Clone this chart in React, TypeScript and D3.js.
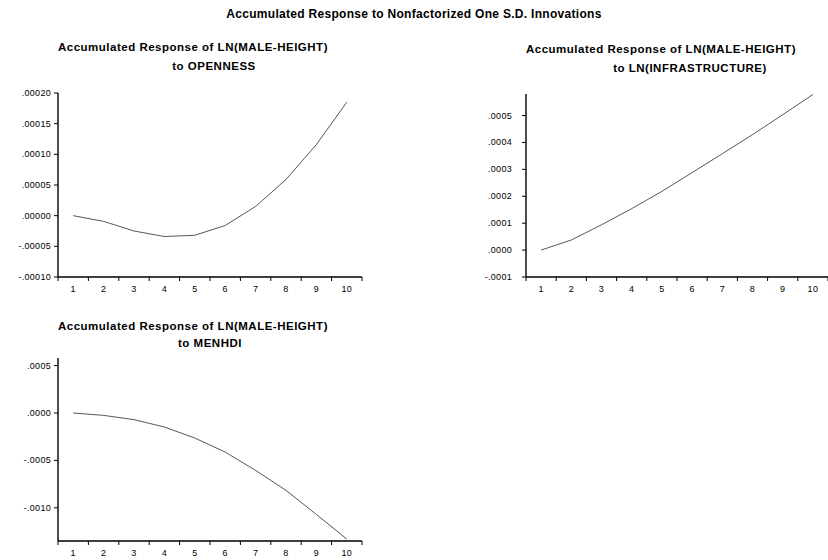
import React from "react";
import * as d3 from "d3";

const W = 828;
const H = 560;

const periods = ["1", "2", "3", "4", "5", "6", "7", "8", "9", "10"];

const mainTitle = "Accumulated Response to Nonfactorized One S.D. Innovations";

const opennessValues = [0, -0.0000093, -0.000025, -0.000034, -0.000032, -0.000016, 0.000015, 0.000059, 0.000116, 0.000185];
const infrastructureValues = [0, 0.0000375, 0.000094, 0.000154, 0.000218, 0.000288, 0.000358, 0.000429, 0.000503, 0.000578];
const menhdiValues = [0, -0.000025, -0.00007, -0.000148, -0.000264, -0.000412, -0.000605, -0.000816, -0.00107, -0.00133];

const opennessTicks = [-0.0001, -0.00005, 0, 0.00005, 0.0001, 0.00015, 0.0002];
const infrastructureTicks = [-0.0001, 0, 0.0001, 0.0002, 0.0003, 0.0004, 0.0005];
const menhdiTicks = [-0.001, -0.0005, 0, 0.0005];

const opennessTitle = ["Accumulated Response of LN(MALE-HEIGHT)", "to OPENNESS"];
const infrastructureTitle = ["Accumulated Response of LN(MALE-HEIGHT)", "to LN(INFRASTRUCTURE)"];
const menhdiTitle = ["Accumulated Response of LN(MALE-HEIGHT)", "to MENHDI"];

const FONT = "'Liberation Sans', Arial, Helvetica, sans-serif";

function fmt(v: number, decimals: number): string {
  const s = Math.abs(v).toFixed(decimals).replace(/^0/, "");
  return v < 0 ? "-" + s : s;
}

type PanelProps = {
  values: number[];
  ticks: number[];
  decimals: number;
  domain: [number, number];
  title: string[];
  title2X: number;
  titleY: number[];
  labelGap: number;
  x0: number;
  x1: number;
  yTop: number;
  yBottom: number;
};

function Panel(p: PanelProps) {
  const x = d3.scaleBand<string>().domain(periods).range([p.x0, p.x1]).padding(0);
  const y = d3.scaleLinear().domain(p.domain).range([p.yBottom, p.yTop]);
  const bw = x.bandwidth();
  const line = d3
    .line<number>()
    .x((_, i) => (x(periods[i]) as number) + bw / 2)
    .y((d) => y(d));
  const boundaries = periods.map((c) => x(c) as number).concat([p.x1]);
  return (
    <g>
      <text
        x={p.x0}
        y={p.titleY[0]}
        textAnchor="start"
        fontFamily={FONT}
        fontWeight="bold"
        fontSize={11.5}
        letterSpacing={0.5}
        fill="#000"
      >
        {p.title[0]}
      </text>
      <text
        x={p.title2X}
        y={p.titleY[1]}
        textAnchor="middle"
        fontFamily={FONT}
        fontWeight="bold"
        fontSize={11.5}
        letterSpacing={0.5}
        fill="#000"
      >
        {p.title[1]}
      </text>
      <path d={line(p.values) || ""} fill="none" stroke="#444" strokeWidth={0.9} />
      <line x1={p.x0} x2={p.x0} y1={p.yTop} y2={p.yBottom} stroke="#000" strokeWidth={1.4} />
      <line x1={p.x0} x2={p.x1} y1={p.yBottom} y2={p.yBottom} stroke="#000" strokeWidth={1.4} />
      {p.ticks.map((t, i) => (
        <g key={i}>
          <line x1={p.x0 - 4} x2={p.x0} y1={y(t)} y2={y(t)} stroke="#000" strokeWidth={1} />
          <text
            x={p.x0 - p.labelGap}
            y={y(t) + 3}
            textAnchor="end"
            fontFamily={FONT}
            fontSize={9}
            letterSpacing={0.3}
            fill="#000"
          >
            {fmt(t, p.decimals)}
          </text>
        </g>
      ))}
      {boundaries.map((b, i) => (
        <line key={i} x1={b} x2={b} y1={p.yBottom} y2={p.yBottom + 4} stroke="#000" strokeWidth={1} />
      ))}
      {periods.map((c) => (
        <text
          key={c}
          x={(x(c) as number) + bw / 2}
          y={p.yBottom + 15}
          textAnchor="middle"
          fontFamily={FONT}
          fontSize={9}
          letterSpacing={0.3}
          fill="#000"
        >
          {c}
        </text>
      ))}
    </g>
  );
}

export default function App() {
  return (
    <svg
      width={W}
      height={H}
      viewBox={`0 0 ${W} ${H}`}
      style={{ position: "absolute", left: 0, top: 0, background: "#fff" }}
    >
      <rect x={0} y={0} width={W} height={H} fill="#fff" />
      <text
        x={414}
        y={18}
        textAnchor="middle"
        fontFamily={FONT}
        fontWeight="bold"
        fontSize={12}
        letterSpacing={0.3}
        fill="#000"
      >
        {mainTitle}
      </text>
      <Panel
        values={opennessValues}
        ticks={opennessTicks}
        decimals={5}
        domain={[-0.0001, 0.0002]}
        title={opennessTitle}
        title2X={214}
        titleY={[51, 70]}
        labelGap={7}
        x0={58}
        x1={362}
        yTop={93}
        yBottom={277}
      />
      <Panel
        values={infrastructureValues}
        ticks={infrastructureTicks}
        decimals={4}
        domain={[-0.0001, 0.00058]}
        title={infrastructureTitle}
        title2X={690}
        titleY={[53, 72]}
        labelGap={14}
        x0={526}
        x1={828}
        yTop={94}
        yBottom={277}
      />
      <Panel
        values={menhdiValues}
        ticks={menhdiTicks}
        decimals={4}
        domain={[-0.00135, 0.00058]}
        title={menhdiTitle}
        title2X={210}
        titleY={[330, 347]}
        labelGap={7}
        x0={58}
        x1={362}
        yTop={358}
        yBottom={541}
      />
    </svg>
  );
}
